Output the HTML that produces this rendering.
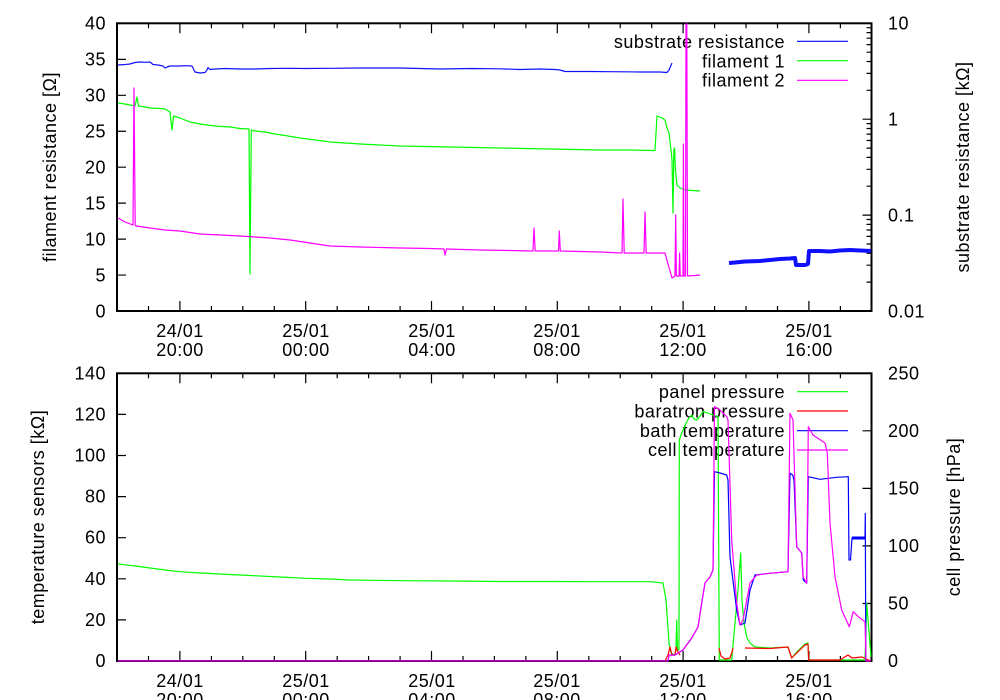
<!DOCTYPE html>
<html><head><meta charset="utf-8"><style>
html,body{margin:0;padding:0;background:#fff;}
svg{display:block;}
text{font-family:"Liberation Sans",sans-serif;font-size:18px;letter-spacing:0.5px;fill:#000;}
</style></head><body>
<svg width="1000" height="700" viewBox="0 0 1000 700" xmlns="http://www.w3.org/2000/svg">
<defs>
<clipPath id="c1"><rect x="117" y="23" width="755" height="288.5"/></clipPath>
<clipPath id="c2"><rect x="117" y="373" width="755" height="288.5"/></clipPath>
</defs>
<rect width="1000" height="700" fill="#fff"/>

<!-- ================= TOP PLOT ================= -->
<g stroke="#000" stroke-width="1.2" fill="none">
<!-- x ticks bottom & top -->
<path d="M148.5 311v-5M179.9 311v-10M211.4 311v-5M242.8 311v-5M274.3 311v-5M305.7 311v-10M337.2 311v-5M368.6 311v-5M400.1 311v-5M431.5 311v-10M463 311v-5M494.4 311v-5M525.9 311v-5M557.3 311v-10M588.8 311v-5M620.2 311v-5M651.7 311v-5M683.1 311v-10M714.6 311v-5M746 311v-5M777.5 311v-5M808.9 311v-10M840.4 311v-5"/>
<path d="M148.5 23.3v5M179.9 23.3v10M211.4 23.3v5M242.8 23.3v5M274.3 23.3v5M305.7 23.3v10M337.2 23.3v5M368.6 23.3v5M400.1 23.3v5M431.5 23.3v10M463 23.3v5M494.4 23.3v5M525.9 23.3v5M557.3 23.3v10M588.8 23.3v5M620.2 23.3v5M651.7 23.3v5M683.1 23.3v10M714.6 23.3v5M746 23.3v5M777.5 23.3v5M808.9 23.3v10M840.4 23.3v5"/>
<!-- left y ticks -->
<path d="M117 59.35h9M117 95.3h9M117 131.25h9M117 167.2h9M117 203.15h9M117 239.1h9M117 275.05h9"/>
<!-- right log ticks -->
<path d="M871.5 119.2h-9M871.5 215.1h-9"/>
<path d="M871.5 282.1h-5M871.5 265.2h-5M871.5 253.3h-5M871.5 244h-5M871.5 236.4h-5M871.5 230h-5M871.5 224.4h-5M871.5 219.5h-5"/>
<path d="M871.5 186.2h-5M871.5 169.3h-5M871.5 157.4h-5M871.5 148.1h-5M871.5 140.5h-5M871.5 134.1h-5M871.5 128.5h-5M871.5 123.6h-5"/>
<path d="M871.5 90.3h-5M871.5 73.4h-5M871.5 61.5h-5M871.5 52.2h-5M871.5 44.6h-5M871.5 38.2h-5M871.5 32.6h-5M871.5 27.7h-5"/>
</g>
<rect x="117" y="23.3" width="754.5" height="287.7" fill="none" stroke="#000" stroke-width="2"/>

<!-- left tick labels -->
<g text-anchor="end">
<text x="106" y="29.5">40</text>
<text x="106" y="65.5">35</text>
<text x="106" y="101.5">30</text>
<text x="106" y="137.5">25</text>
<text x="106" y="173.5">20</text>
<text x="106" y="209.5">15</text>
<text x="106" y="245.5">10</text>
<text x="106" y="281.5">5</text>
<text x="106" y="317.5">0</text>
</g>
<!-- right tick labels -->
<text x="888" y="29.5">10</text>
<text x="888" y="125.5">1</text>
<text x="888" y="221.5">0.1</text>
<text x="888" y="317.5">0.01</text>
<!-- x labels -->
<g text-anchor="middle">
<text x="180" y="337">24/01</text><text x="180" y="356">20:00</text>
<text x="306" y="337">25/01</text><text x="306" y="356">00:00</text>
<text x="432" y="337">25/01</text><text x="432" y="356">04:00</text>
<text x="557" y="337">25/01</text><text x="557" y="356">08:00</text>
<text x="683" y="337">25/01</text><text x="683" y="356">12:00</text>
<text x="809" y="337">25/01</text><text x="809" y="356">16:00</text>
</g>
<!-- axis titles -->
<text transform="translate(56,167) rotate(-90)" text-anchor="middle">filament resistance [Ω]</text>
<text transform="translate(969,167) rotate(-90)" text-anchor="middle">substrate resistance [kΩ]</text>
<!-- legend -->
<g text-anchor="end">
<text x="785" y="48">substrate resistance</text>
<text x="785" y="67.3">filament 1</text>
<text x="785" y="86.5">filament 2</text>
</g>
<path d="M797 41.3h51" stroke="#0000ff" stroke-width="1.2"/>
<path d="M797 60.7h51" stroke="#00ff00" stroke-width="1.2"/>
<path d="M797 80.3h51" stroke="#ff00ff" stroke-width="1.2"/>

<g clip-path="url(#c1)" fill="none" stroke-linejoin="round">
<!-- substrate resistance -->
<polyline stroke="#1010ff" stroke-width="1.2" points="118,65 125,64.5 130,64 135,62.5 140,62 146,62.3 150,62 153,64.5 158,65 163,66 165,68 167,67 170,66 180,66 186,65.7 192,66 195,72 200,73 205,72.5 207,70 208,67.5 210,69.5 215,69 225,68.5 240,69 255,69 270,68.5 290,68.3 305,68.5 330,68.3 360,68 400,68 420,68.5 440,69 470,68.5 500,68.8 520,69.5 540,69 555,69.5 560,70 565,71.5 590,71.5 610,71.7 640,72 660,72 667,72.5 669,70 672,63"/>
<polyline stroke="#1010ff" stroke-width="4" points="729,263 735,262.5 745,261.5 760,261 770,260 780,259 790,258.5 795,258 796,265 805,265 808,264 809,251 820,251 830,251.5 840,250.5 850,250 860,250.5 871,251"/>
<!-- filament 1 -->
<polyline stroke="#00ff00" stroke-width="1.2" points="118,103 125,104 130,105 135,106 137,97 138.5,106 145,107 150,108 160,108.5 165,109 170,112 172,130 173.5,116 180,118 185,120 190,122 200,124 207,125 215,126 230,127 240,128.5 249,129 250,274 251.3,130 255,131 265,132 275,134 285,135.5 300,138 315,140 330,142 345,143 360,144 380,145 400,146 425,146.5 450,147 475,147.5 500,148 525,148.5 550,149 575,149.5 600,150 630,150 655,150.5 657,116 662,118 665,120 667,128 669,133 671,150 672,160 673,213 673.8,150 674.6,148 675.4,170 677,185 680,188 685,190 692,190.5 700,191"/>
<!-- filament 2 -->
<polyline stroke="#ff00ff" stroke-width="1.2" points="118,218 125,222 133,225 134,88 135.2,225 136,226 150,228 165,230 180,231 190,232.5 200,234 220,235 240,236 255,237 270,238 290,240 310,243 330,246 360,247 400,248 430,248.5 444,249 445,255 446.5,249 480,250 510,250.5 533,251 534,228 535.2,251 558.5,251 559.3,231 560.3,251 580,251.5 600,252 622,253 623,199 624.2,253 644,253 645,212 646.2,253 665,253 668,264 672,278 675,276 675.7,215 676.4,276 679,276 679.6,253 680.2,276 683,276 683.4,144 684,276 685.5,276 686,24 686.8,24 687.5,276 695,275.5 700,275"/>
</g>

<!-- ================= BOTTOM PLOT ================= -->
<g stroke="#000" stroke-width="1.2" fill="none">
<path d="M148.5 661v-5M179.9 661v-10M211.4 661v-5M242.8 661v-5M274.3 661v-5M305.7 661v-10M337.2 661v-5M368.6 661v-5M400.1 661v-5M431.5 661v-10M463 661v-5M494.4 661v-5M525.9 661v-5M557.3 661v-10M588.8 661v-5M620.2 661v-5M651.7 661v-5M683.1 661v-10M714.6 661v-5M746 661v-5M777.5 661v-5M808.9 661v-10M840.4 661v-5"/>
<path d="M148.5 373.3v5M179.9 373.3v10M211.4 373.3v5M242.8 373.3v5M274.3 373.3v5M305.7 373.3v10M337.2 373.3v5M368.6 373.3v5M400.1 373.3v5M431.5 373.3v10M463 373.3v5M494.4 373.3v5M525.9 373.3v5M557.3 373.3v10M588.8 373.3v5M620.2 373.3v5M651.7 373.3v5M683.1 373.3v10M714.6 373.3v5M746 373.3v5M777.5 373.3v5M808.9 373.3v10M840.4 373.3v5"/>
<path d="M117 414.4h9M117 455.5h9M117 496.6h9M117 537.7h9M117 578.8h9M117 619.9h9"/>
<path d="M871.5 430.8h-9M871.5 488.4h-9M871.5 545.9h-9M871.5 603.5h-9"/>
</g>
<rect x="117" y="373.3" width="754.5" height="287.7" fill="none" stroke="#000" stroke-width="2"/>

<g text-anchor="end">
<text x="106" y="379.5">140</text>
<text x="106" y="420.5">120</text>
<text x="106" y="461.5">100</text>
<text x="106" y="502.5">80</text>
<text x="106" y="543.5">60</text>
<text x="106" y="585">40</text>
<text x="106" y="626">20</text>
<text x="106" y="667">0</text>
</g>
<text x="888" y="379.5">250</text>
<text x="888" y="437">200</text>
<text x="888" y="494.5">150</text>
<text x="888" y="552">100</text>
<text x="888" y="609.5">50</text>
<text x="888" y="667">0</text>
<g text-anchor="middle">
<text x="180" y="687">24/01</text><text x="180" y="706">20:00</text>
<text x="306" y="687">25/01</text><text x="306" y="706">00:00</text>
<text x="432" y="687">25/01</text><text x="432" y="706">04:00</text>
<text x="557" y="687">25/01</text><text x="557" y="706">08:00</text>
<text x="683" y="687">25/01</text><text x="683" y="706">12:00</text>
<text x="809" y="687">25/01</text><text x="809" y="706">16:00</text>
</g>
<text transform="translate(44,517) rotate(-90)" text-anchor="middle">temperature sensors [kΩ]</text>
<text transform="translate(960,517) rotate(-90)" text-anchor="middle">cell pressure [hPa]</text>
<g text-anchor="end">
<text x="785" y="398">panel pressure</text>
<text x="785" y="417.3">baratron pressure</text>
<text x="785" y="436.8">bath temperature</text>
<text x="785" y="456.2">cell temperature</text>
</g>
<path d="M797 391.7h51" stroke="#00ff00" stroke-width="1.2"/>
<path d="M797 411h51" stroke="#ff0000" stroke-width="1.2"/>
<path d="M797 430.7h51" stroke="#0000ff" stroke-width="1.2"/>
<path d="M797 450h51" stroke="#ff00ff" stroke-width="1.2"/>

<g clip-path="url(#c2)" fill="none" stroke-linejoin="round">
<!-- panel pressure -->
<polyline stroke="#00ff00" stroke-width="1.2" points="118,564 135,566 150,568 165,570 180,571.7 200,573 220,574 250,575.5 280,577 305,578.3 330,579 350,580 400,580.7 450,581 500,581.5 550,581.5 600,581.7 650,581.7 663,583 666,600 669,643 671,653 675,655 676,649 676.7,620 677.5,650 679,650 679.3,440 681.7,433 684,428 686.7,422 689,418 691.7,415 694,419 696.7,420 700,416 703,411.7 708,413 713,415 718,416.7 719.3,660 731.7,660 735,623 738,590 740.7,553 742,600 744,623 747,638 750,643 755,647 770,648 788,647 791.7,658 796.7,652 805,644 808,643 808.6,660 840,660 860,660 865,660 866.7,603.3 871,656.7"/>
<!-- baratron pressure -->
<polyline stroke="#ff0000" stroke-width="1.2" points="118,661 665,661 668,655 670,647 672,655 675,655 676,647 678,652 680,655"/>
<polyline stroke="#ff0000" stroke-width="1.2" points="719,648 721,656 725,659 730,658 732,652 733,648"/>
<polyline stroke="#ff0000" stroke-width="1.2" points="745,648 770,648.5 788,647 791.7,658 796.7,653 805,645 808,644 808.6,660 840,660 848,655 852,658 862,657 866,659 871,661"/>
<!-- bath temperature -->
<polyline stroke="#0000ff" stroke-width="1.2" points="118,661 668,661 669,655 675,655 683,650 691.7,638 698,627 701.7,603 705,583 710,577 713,570 714.5,471.7 720,473 726.7,475 728,480 730,557 736.7,610 740,625 745,623 750,590 755,575 770,573.3 788,571.7 790,473.3 792.7,475 794,480 796.7,546.7 801.7,553 803.3,580 806.7,583 808.3,476.7 820,479.3 836.7,477.3 848.3,476.7 849,560 850.5,560 852,538 865,538 865.3,513.3 865.8,661 871,661"/>
<polyline stroke="#0000ff" stroke-width="3" points="852,538 865,538"/>
<!-- cell temperature -->
<polyline stroke="#ff00ff" stroke-width="1.2" points="118,661 668,661 669,655 675,655 683,650 691.7,638 698,627 701.7,603 705,583 710,577 713,570 714.5,406.7 720,410 726.7,416.7 728,420 731.7,540 736.7,603 740,625 743,620 750,583 756.7,575 770,573.3 788,571.7 790,413.3 793,420 796.7,546.7 801.7,553 803,576.7 806.7,583.3 808.3,426.7 813,435 825,443 827.3,453 830,523 835,576.7 841.7,610 849.3,626.7 853.3,611.7 858.3,616.7 865,621.7 866,661 871,661"/>
</g>
</svg>
</body></html>
